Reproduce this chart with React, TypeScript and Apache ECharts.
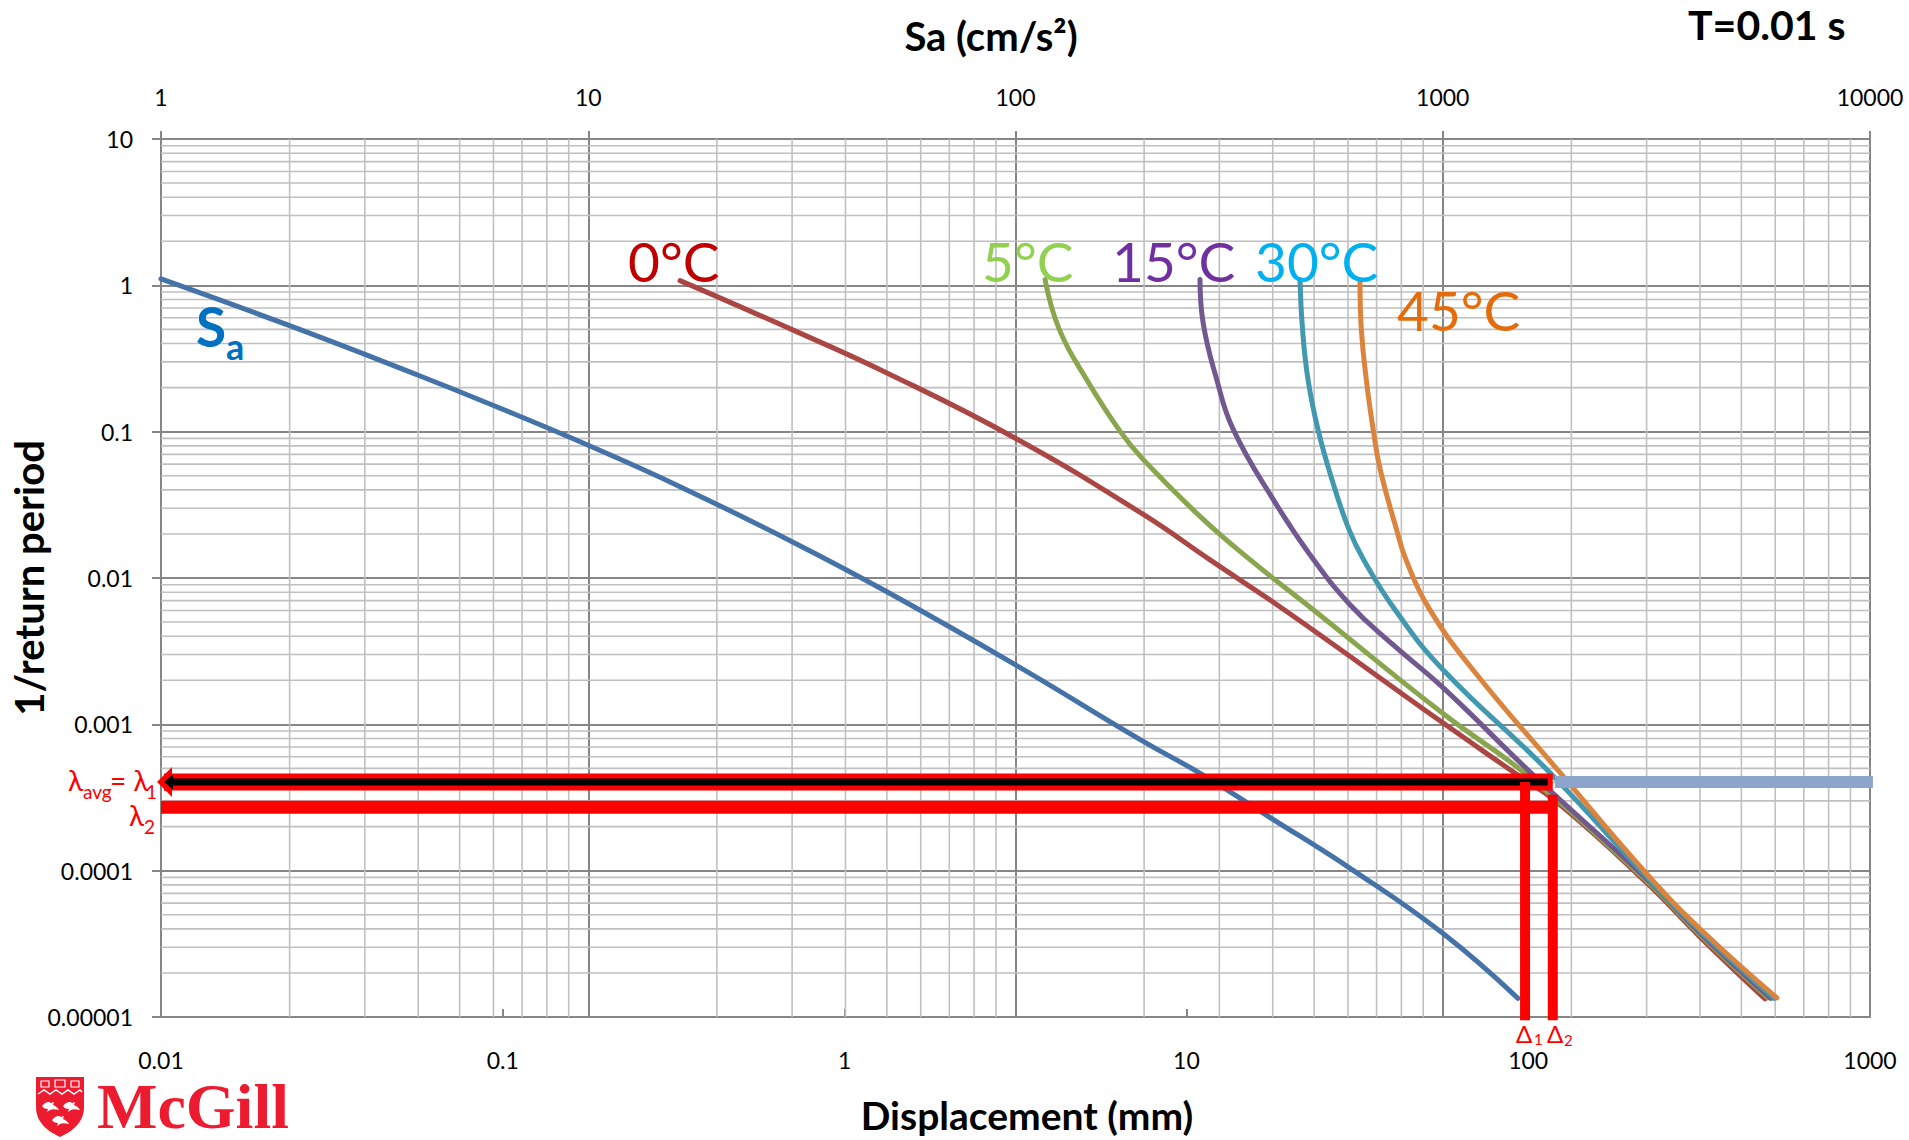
import React, { useEffect, useRef } from "react";
import * as echarts from "echarts";

// ---------------- data ----------------
// Sa hazard curve (top axis: Sa in cm/s^2)
const saAcceleration = [1, 2, 4, 6, 10, 16.4, 30, 50, 100, 200, 270, 387, 617, 1000, 1500];
const saRate = [1.106, 0.53, 0.243, 0.151, 0.0807, 0.0421, 0.0177, 0.00805, 0.00255, 0.000758, 0.000464, 0.000239, 0.0001005, 0.0000373, 0.0000134];

// Displacement hazard curves (bottom axis: displacement in mm)
const disp0C = [0.33, 0.702, 1.33, 3.15, 7.48, 11.7, 19.7, 56.4, 88.5, 124, 222, 318, 493];
const rate0C = [1.077, 0.498, 0.252, 0.0906, 0.0272, 0.01334, 0.00588, 0.00102, 0.000489, 0.000282, 0.0000827, 0.0000353, 0.0000133];

const disp5C = [3.86, 4.25, 5.11, 6.4, 7.48, 10.96, 15.35, 23.5, 56.45, 99, 222, 318, 503];
const rate5C = [1.094, 0.498, 0.2266, 0.1005, 0.0644, 0.02637, 0.01334, 0.00607, 0.00118, 0.000452, 0.0000853, 0.0000365, 0.0000135];

const disp15C = [10.96, 11.19, 12.27, 13.72, 17.96, 22.99, 30.11, 40.22, 56.33, 103.3, 222, 318, 513];
const rate15C = [1.094, 0.556, 0.2266, 0.1032, 0.0343, 0.01443, 0.00657, 0.0035, 0.00178, 0.000452, 0.000088, 0.0000376, 0.0000134];

const disp30C = [21.5, 21.87, 22.69, 24.27, 26.67, 29.91, 33.0, 40.77, 56.33, 115.8, 222, 318, 524];
const rate30C = [1.094, 0.498, 0.2266, 0.1032, 0.047, 0.0214, 0.01334, 0.00607, 0.00236, 0.000467, 0.0000908, 0.0000388, 0.0000134];

const disp45C = [32.2, 32.5, 33.6, 35.2, 36.9, 41.2, 43.9, 50.9, 68.9, 123.9, 222, 318, 534];
const rate45C = [1.06, 0.498, 0.2266, 0.1032, 0.055, 0.0214, 0.01334, 0.00637, 0.00236, 0.000467, 0.0000952, 0.0000401, 0.0000135];

// annotation values
const lambda1 = 0.000404; // lambda_avg = lambda_1
const lambda2 = 0.000271;
const delta1 = 97.9; // mm
const delta2 = 118; // mm

// tick labels
const topTickLabels = ["1", "10", "100", "1000", "10000"];
const bottomTickLabels = ["0.01", "0.1", "1", "10", "100", "1000"];
const leftTickLabels = ["0.00001", "0.0001", "0.001", "0.01", "0.1", "1", "10"];

// ---------------- helpers ----------------
const pairs = (xs: number[], ys: number[]) => xs.map((x, i) => [x, ys[i]]);
const labelFor = (labels: string[], minExp: number) => (v: number) => {
  const i = Math.round(Math.log10(v)) - minExp;
  return labels[i] ?? "";
};
const minorSteps = [2, 3, 4, 5, 6, 7, 8, 9];
const minorValues = (minExp: number, maxExp: number) => {
  const out: number[] = [];
  for (let e = minExp; e < maxExp; e++) for (const m of minorSteps) out.push(+(m * Math.pow(10, e)).toPrecision(6));
  return out;
};

echarts.graphic.registerShape(
  "mcgillShield",
  echarts.graphic.extendPath("M0 0 L48 0 L48 30 C48 45 37 54 24 60 C11 54 0 45 0 30 Z", {})
);
echarts.graphic.registerShape(
  "martlet",
  echarts.graphic.extendPath("M0 5 C3 1 7 0 9 2 L12 1 L11 4 C14 5 16 7 17 9 C13 8 10 8 8 9 L5 11 L6 8 C3 8 1 7 0 5 Z", {})
);

const FONT = "Lato, 'Noto Sans', 'DejaVu Sans', sans-serif";

const txt = (text: string, x: number, y: number, font: string, fill: string, align = "left", rotation = 0) => ({
  type: "text",
  x,
  y,
  rotation,
  silent: true,
  z: 100,
  style: { text, font, fill, align, textAlign: align, verticalAlign: "middle", textVerticalAlign: "middle" },
});

function buildOption() {
  const vGrid = minorValues(0, 4).flatMap((x) => [[x, 1e-5], [x, 10], ["-", "-"]]);
  const hGrid = minorValues(-5, 1).flatMap((y) => [[1, y], [10000, y], ["-", "-"]]);

  const curve = (name: string, data: number[][], color: string, xAxisIndex: number) => ({
    type: "line",
    name,
    xAxisIndex,
    yAxisIndex: 0,
    data,
    symbol: "none",
    showSymbol: false,
    smooth: 0.45,
    silent: true,
    z: 3,
    emphasis: { disabled: true },
    lineStyle: { color, width: 5, cap: "round", join: "round" },
  });

  const bar = (data: number[][], color: string, width: number, z: number, markLine?: any) => ({
    type: "line",
    xAxisIndex: 0,
    yAxisIndex: 0,
    data,
    symbol: "none",
    showSymbol: false,
    silent: true,
    clip: false,
    z,
    emphasis: { disabled: true },
    lineStyle: { color, width, cap: "butt" },
    ...(markLine ? { markLine } : {}),
  });

  const arrow = (from: number[], to: number[], fromSym: any, toSym: any, color: string, width: number) => ({
    silent: true,
    animation: false,
    label: { show: false },
    emphasis: { disabled: true },
    lineStyle: { color, width, type: "solid", opacity: 1, cap: "butt" },
    itemStyle: { color },
    data: [[
      { coord: from, symbol: fromSym ? "triangle" : "none", symbolSize: fromSym || 1 },
      { coord: to, symbol: toSym ? "triangle" : "none", symbolSize: toSym || 1 },
    ]],
  });

  const axisLine = { show: true, lineStyle: { color: "#868686", width: 2 } };
  const labelStyle = { color: "#000", fontSize: 23, fontFamily: FONT };

  return {
    animation: false,
    backgroundColor: "#ffffff",
    grid: { left: 161, top: 139, right: 39, bottom: 123, containLabel: false },
    xAxis: [
      {
        type: "log",
        logBase: 10,
        min: 0.01,
        max: 1000,
        position: "bottom",
        axisLine,
        axisTick: { show: true, inside: true, length: 8, lineStyle: { color: "#868686", width: 2 } },
        axisLabel: { ...labelStyle, margin: 31, formatter: labelFor(bottomTickLabels, -2) },
        splitLine: { show: false },
        minorTick: { show: false },
      },
      {
        type: "log",
        logBase: 10,
        min: 1,
        max: 10000,
        position: "top",
        axisLine,
        axisTick: { show: true, inside: false, length: 8, lineStyle: { color: "#868686", width: 2 } },
        axisLabel: { ...labelStyle, margin: 31, formatter: labelFor(topTickLabels, 0) },
        splitLine: { show: true, lineStyle: { color: "#868686", width: 2 } },
      },
    ],
    yAxis: [
      {
        type: "log",
        logBase: 10,
        min: 0.00001,
        max: 10,
        position: "left",
        axisLine,
        axisTick: { show: true, inside: false, length: 9, lineStyle: { color: "#868686", width: 2 } },
        axisLabel: { ...labelStyle, margin: 28, formatter: labelFor(leftTickLabels, -5) },
        splitLine: { show: true, lineStyle: { color: "#868686", width: 2 } },
      },
    ],
    series: [
      {
        type: "line", xAxisIndex: 1, yAxisIndex: 0, data: vGrid, symbol: "none", silent: true, z: 1,
        connectNulls: false, emphasis: { disabled: true }, lineStyle: { color: "#c0c0c0", width: 1.6 },
      },
      {
        type: "line", xAxisIndex: 1, yAxisIndex: 0, data: hGrid, symbol: "none", silent: true, z: 1,
        connectNulls: false, emphasis: { disabled: true }, lineStyle: { color: "#c0c0c0", width: 1.6 },
      },
      curve("Sa", pairs(saAcceleration, saRate), "#4572A7", 1),
      curve("0°C", pairs(disp0C, rate0C), "#AA4643", 0),
      curve("5°C", pairs(disp5C, rate5C), "#89A54E", 0),
      curve("15°C", pairs(disp15C, rate15C), "#71588F", 0),
      curve("30°C", pairs(disp30C, rate30C), "#4198AF", 0),
      curve("45°C", pairs(disp45C, rate45C), "#DB843D", 0),
      // light blue level line
      bar([[119.8, lambda1], [1020, lambda1]], "#8EA5CB", 12, 4),
      // lambda2 red line
      bar([[0.01, lambda2], [121, lambda2]], "#FF0000", 13, 4),
      // lambda1 arrow: red outline + black core
      bar([[0.0102, lambda1], [delta2, lambda1]], "#FF0000", 17, 4,
        arrow([0.01024, lambda1], [0.0107, lambda1], [30, 15], null, "#FF0000", 17)),
      bar([[0.0104, lambda1], [114, lambda1]], "#000000", 7, 4,
        arrow([0.01052, lambda1], [0.0108, lambda1], [15, 9], null, "#000000", 7)),
      // delta1 arrow
      bar([[delta1, lambda1], [delta1, 0.0000095]], "#FF0000", 10, 4,
        arrow([delta1, 0.000013], [delta1, 0.00000913], null, [22, 11], "#FF0000", 10)),
      // delta2 arrow
      bar([[delta2, 0.00033], [delta2, 0.0000095]], "#FF0000", 10, 4,
        arrow([delta2, 0.00033], [delta2, 0.00000913], [22, 13], [22, 11], "#FF0000", 10)),
    ],
    graphic: [
      txt("T=0.01 s", 1688, 24, `bold 41px ${FONT}`, "#000"),
      txt("Sa (cm/s²)", 991, 36, `bold 40px ${FONT}`, "#000", "center"),
      txt("Displacement (mm)", 1027, 1115, `bold 39px ${FONT}`, "#000", "center"),
      txt("1/return period", 29, 578, `bold 40px ${FONT}`, "#000", "center", Math.PI / 2),
      // curve labels
      txt("S", 196, 326, `bold 55px ${FONT}`, "#0070C0"),
      txt("a", 226, 346, `bold 36px ${FONT}`, "#0070C0"),
      txt("0°C", 628, 261, `55px ${FONT}`, "#C00000"),
      txt("5°C", 982, 261, `55px ${FONT}`, "#92D050"),
      txt("15°C", 1112, 261, `55px ${FONT}`, "#7030A0"),
      txt("30°C", 1255, 261, `55px ${FONT}`, "#00B0F0"),
      txt("45°C", 1397, 310, `55px ${FONT}`, "#E46C0A"),
      // lambda labels
      txt("λ", 68, 780, `28px ${FONT}`, "#FF0000"),
      txt("avg", 83, 791, `19px ${FONT}`, "#FF0000"),
      txt("= λ", 110, 780, `28px ${FONT}`, "#FF0000"),
      txt("1", 146, 791, `19px ${FONT}`, "#FF0000"),
      txt("λ", 129, 815, `28px ${FONT}`, "#FF0000"),
      txt("2", 144, 826, `19px ${FONT}`, "#FF0000"),
      // delta labels
      txt("Δ", 1516, 1033, `24px ${FONT}`, "#FF0000"),
      txt("1", 1534, 1039, `15px ${FONT}`, "#FF0000"),
      txt("Δ", 1547, 1033, `24px ${FONT}`, "#FF0000"),
      txt("2", 1564, 1040, `15px ${FONT}`, "#FF0000"),
      // McGill logo
      {
        type: "group",
        x: 36,
        y: 1077,
        silent: true,
        children: [
          { type: "mcgillShield", x: 0, y: 0, scaleX: 1, scaleY: 1, style: { fill: "#ED1B2F" } },
          { type: "polyline", shape: { points: [[2, 17], [8, 13], [14, 17], [20, 13], [26, 17], [32, 13], [38, 17], [44, 13], [46, 15]] }, style: { stroke: "#ffffff", lineWidth: 1.5, fill: null } },
          { type: "rect", shape: { x: 5, y: 4, width: 8, height: 6 }, style: { stroke: "#ffffff", lineWidth: 1.2, fill: null } },
          { type: "rect", shape: { x: 19, y: 3, width: 10, height: 7 }, style: { stroke: "#ffffff", lineWidth: 1.2, fill: null } },
          { type: "rect", shape: { x: 35, y: 4, width: 8, height: 6 }, style: { stroke: "#ffffff", lineWidth: 1.2, fill: null } },
          { type: "martlet", x: 6, y: 24, scaleX: 1, scaleY: 1, style: { fill: "#ffffff" } },
          { type: "martlet", x: 27, y: 24, scaleX: 1, scaleY: 1, style: { fill: "#ffffff" } },
          { type: "martlet", x: 16, y: 38, scaleX: 1, scaleY: 1, style: { fill: "#ffffff" } },
        ],
      },
      txt("McGill", 97, 1106, "bold 64px 'Liberation Serif', serif", "#ED1B2F"),
    ],
  };
}

export default function App() {
  const ref = useRef<HTMLDivElement>(null);
  useEffect(() => {
    document.body.style.margin = "0";
    if (!ref.current) return;
    const chart = echarts.init(ref.current, undefined, { renderer: "svg" });
    chart.setOption(buildOption() as any);
    return () => chart.dispose();
  }, []);
  return (
    <div
      ref={ref}
      style={{ width: 1909, height: 1140, position: "absolute", left: 0, top: 0, background: "#ffffff" }}
    />
  );
}
